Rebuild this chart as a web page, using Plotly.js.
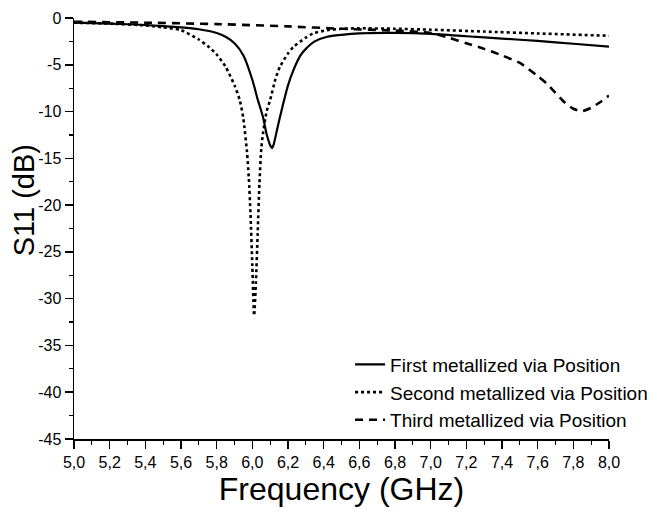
<!DOCTYPE html>
<html>
<head>
<meta charset="utf-8">
<script src="https://cdn.plot.ly/plotly-3.0.1.min.js"></script>
<style>html,body{margin:0;padding:0;background:#fff;}#chart{width:657px;height:512px;}</style>
</head>
<body>
<div id="chart"></div>
<script>
const seriesNames = ["First metallized via Position", "Second metallized via Position", "Third metallized via Position"];

const freqFirst = [5.0,5.2,5.4,5.6,5.7,5.8,5.85,5.9,5.95,6.0,6.03,6.06,6.08,6.1,6.11,6.12,6.14,6.17,6.2,6.23,6.27,6.3,6.35,6.42,6.5,6.6,6.8,7.0,7.2,7.4,7.6,7.8,8.0];
const s11First = [-0.5,-0.6,-0.75,-1.0,-1.2,-1.6,-2.0,-2.7,-4.0,-6.6,-8.7,-10.6,-12.4,-13.6,-13.9,-13.5,-11.8,-9.4,-7.2,-5.6,-4.0,-3.3,-2.5,-2.0,-1.8,-1.65,-1.6,-1.7,-1.95,-2.2,-2.45,-2.75,-3.05];

const freqSecond = [5.0,5.2,5.4,5.5,5.6,5.7,5.75,5.8,5.85,5.9,5.93,5.95,5.97,5.98,5.99,6.0,6.01,6.02,6.03,6.04,6.05,6.06,6.08,6.1,6.13,6.155,6.2,6.23,6.3,6.34,6.42,6.5,6.6,6.8,7.0,7.3,7.6,8.0];
const s11Second = [-0.5,-0.6,-0.8,-1.0,-1.3,-2.3,-3.0,-3.9,-5.2,-7.2,-8.8,-10.8,-14.3,-17,-21,-26.5,-31.8,-28.3,-23,-17.6,-14.0,-12.3,-10.0,-8.76,-6.5,-5.2,-3.8,-3.1,-2.1,-1.65,-1.3,-1.15,-1.1,-1.15,-1.25,-1.45,-1.65,-1.9];

const freqThird = [5.0,5.4,5.8,6.2,6.5,6.8,7.0,7.1,7.2,7.3,7.4,7.5,7.6,7.65,7.7,7.75,7.8,7.85,7.9,7.95,8.0];
const s11Third = [-0.4,-0.5,-0.65,-0.9,-1.15,-1.35,-1.6,-2.1,-2.7,-3.3,-4.0,-4.8,-6.2,-7.0,-8.0,-9.0,-9.7,-9.95,-9.6,-9.0,-8.3];

const xTickVals = [5.0,5.2,5.4,5.6,5.8,6.0,6.2,6.4,6.6,6.8,7.0,7.2,7.4,7.6,7.8,8.0];
const xTickText = ["5,0","5,2","5,4","5,6","5,8","6,0","6,2","6,4","6,6","6,8","7,0","7,2","7,4","7,6","7,8","8,0"];
const yTickVals = [0,-5,-10,-15,-20,-25,-30,-35,-40,-45];
const yTickText = ["0","-5","-10","-15","-20","-25","-30","-35","-40","-45"];
const xTitle = "Frequency (GHz)";
const yTitle = "S11 (dB)";

const font = "Liberation Sans, Arial, sans-serif";

const traces = [
  {x: freqFirst, y: s11First, name: seriesNames[0], mode: "lines", line: {color: "#000", width: 2.2, shape: "spline", smoothing: 0.6}},
  {x: freqSecond, y: s11Second, name: seriesNames[1], mode: "lines", line: {color: "#000", width: 2.6, dash: "dot", shape: "spline", smoothing: 0.6}},
  {x: freqThird, y: s11Third, name: seriesNames[2], mode: "lines", line: {color: "#000", width: 2.6, dash: "8px,6px", shape: "spline", smoothing: 0.6}}
];

const layout = {
  width: 657, height: 512,
  margin: {l: 74, r: 48, t: 18, b: 73, autoexpand: false},
  paper_bgcolor: "#fff", plot_bgcolor: "#fff",
  font: {family: font, color: "#000"},
  showlegend: true,
  legend: {x: 0.516, y: 0.222, xanchor: "left", yanchor: "top", bgcolor: "rgba(0,0,0,0)", font: {size: 19, family: font, color: "#000"}, tracegroupgap: 0},
  xaxis: {
    range: [5, 8], showgrid: false, zeroline: false, showline: true, linecolor: "#000", linewidth: 1.5,
    ticks: "outside", ticklen: 8, tickwidth: 1.5, tickcolor: "#000",
    tickmode: "array", tickvals: xTickVals, ticktext: xTickText,
    tickfont: {size: 16, family: font},
    minor: {tickmode: "linear", tick0: 5, dtick: 0.1, ticklen: 4, tickwidth: 1.2, tickcolor: "#000", ticks: "outside", showgrid: false},
    title: {text: xTitle, font: {size: 32, family: font}, standoff: 8}
  },
  yaxis: {
    range: [-45, 0], showgrid: false, zeroline: false, showline: true, linecolor: "#000", linewidth: 1.5,
    ticks: "outside", ticklen: 8, tickwidth: 1.5, tickcolor: "#000",
    tickmode: "array", tickvals: yTickVals, ticktext: yTickText,
    tickfont: {size: 16, family: font},
    minor: {tickmode: "linear", tick0: 0, dtick: 2.5, ticklen: 4, tickwidth: 1.2, tickcolor: "#000", ticks: "outside", showgrid: false}
  },
  annotations: [
    {text: yTitle, xref: "paper", yref: "paper", x: -0.0945, y: 0.568, xanchor: "center", yanchor: "middle", textangle: -90, showarrow: false, font: {size: 29, family: font, color: "#000"}}
  ]
};

Plotly.newPlot("chart", traces, layout, {displayModeBar: false, staticPlot: true});
</script>
</body>
</html>
